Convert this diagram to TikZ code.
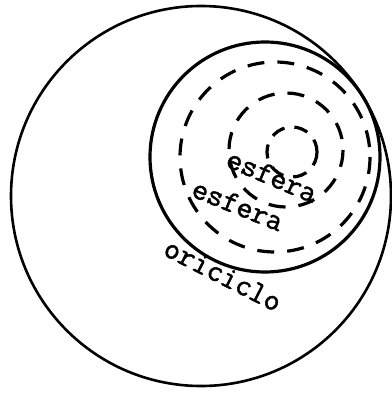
\documentclass[tikz,border=0pt]{standalone}
\usepackage{fontspec}
\newfontfamily\typefont[FakeBold=1.5]{Latin Modern Mono}
\usepackage{tikz}
\usetikzlibrary{positioning,calc}

\begin{document}
\begin{tikzpicture}[
  x=1pt, y=-1pt,
  boundary/.style={line width=2.6pt},
  horo/.style={line width=3.2pt},
  sphere/.style={line width=3.2pt,dash pattern=on 17pt off 13pt},
  lbl/.style={font=\typefont\fontsize{31}{33}\selectfont,inner sep=0pt},
]
\useasboundingbox (0,0) rectangle (391,393);
\coordinate (o)  at (201,196);
\coordinate (h)  at (265,157);
\coordinate (s1) at (275,157);
\coordinate (s2) at (286,150);
\coordinate (s3) at (292,152);
\draw[boundary] (o) circle[radius=190];
\draw[horo] (h) circle[radius=115];
\draw[sphere] (s1) circle[radius=95];
\draw[sphere] (s2) circle[radius=57];
\draw[sphere,dash pattern=on 14pt off 10pt] (s3) circle[radius=25];
\node[lbl,rotate=-23] (esf1) at (272,176) {esfera};
\node[lbl,rotate=-22] (esf2) at (238,205) {esfera};
\node[lbl,rotate=-27] (ori)  at (223,275) {oriciclo};
\end{tikzpicture}
\end{document}
